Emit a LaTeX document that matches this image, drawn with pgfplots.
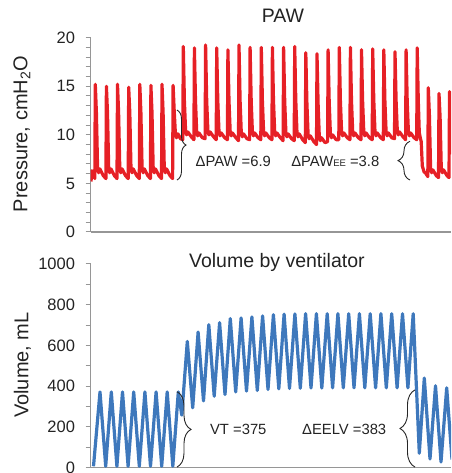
\documentclass[border=0pt]{standalone}
\usepackage{fontspec}
\setmainfont{Liberation Sans}
\usepackage{pgfplots}
\pgfplotsset{compat=1.18}
\usetikzlibrary{decorations.pathreplacing}

\definecolor{pawred}{RGB}{230,32,38}
\definecolor{volblue}{RGB}{62,120,188}
\definecolor{axisgray}{RGB}{150,150,150}
\definecolor{labelgray}{RGB}{35,35,35}
\newcommand{\ticksize}{\fontsize{16.5}{18}\selectfont}
\newcommand{\labsize}{\fontsize{20}{22}\selectfont}
\newcommand{\titsize}{\fontsize{19.5}{22}\selectfont}
\newcommand{\annsize}{\fontsize{14.8}{16}\selectfont}

\tikzset{mybrace/.style={decorate, draw=black!85, line width=0.9pt}}
\pgfplotsset{
  panel/.style={
    scale only axis, width=360.5pt, anchor=south west,
    xmin=90.5, xmax=451,
    axis x line=bottom, axis y line=left,
    axis line style={-, draw=axisgray, line width=1.2pt},
    xtick=\empty,
    tick align=outside, major tick length=5pt, minor tick length=5pt,
    every tick/.style={draw=axisgray, line width=1pt},
    yticklabel style={font=\ticksize, text=labelgray, xshift=-7pt},
    /pgf/number format/assume math mode=true,
    /pgf/number format/1000 sep={},
  },
}

\begin{document}
\begin{tikzpicture}
\useasboundingbox (0,0) rectangle (451pt,473pt);

% ---------- PAW ----------
\begin{axis}[panel, height=194.3pt, at={(90.5pt,241pt)},
  ymin=0, ymax=20, ytick={0,5,10,15,20}, minor y tick num=4,
  ylabel={Pressure, cmH\textsubscript{2}O},
  ylabel style={at={(axis description cs:-0.1753,0.504)}, rotate=0, anchor=base, font=\labsize, text=labelgray},
  title={PAW},
  title style={at={(axis description cs:0.534,1.048)}, anchor=base, font=\titsize, text=labelgray}]
\addplot[pawred, line width=3.2pt, line join=round] coordinates {
(91,5.2) (92,6.3) (94,6.0)
(94.8,5.5) (95.3,15.2) (96.4,12.3) (97.6,6.5) (98.6,6.1) (99.8,6.5) (103.3,5.8)
(105.9,5.5) (106.4,15.0) (107.5,12.3) (108.7,6.5) (109.7,6.1) (110.9,6.5) (114.4,5.8)
(117.0,5.5) (117.5,15.2) (118.6,12.3) (119.8,6.5) (120.8,6.1) (122.0,6.5) (125.5,5.8)
(128.2,5.5) (128.7,14.9) (129.8,12.3) (131.0,6.5) (132.0,6.1) (133.2,6.5) (136.7,5.8)
(139.3,5.5) (139.8,15.2) (140.9,12.3) (142.1,6.5) (143.1,6.1) (144.3,6.5) (147.8,5.8)
(150.4,5.5) (150.9,15.1) (152.0,12.3) (153.2,6.5) (154.2,6.1) (155.4,6.5) (158.9,5.8)
(161.5,5.5) (162.0,15.2) (163.1,12.3) (164.3,6.5) (165.3,6.1) (166.5,6.5) (170.0,5.8)
(172.6,5.5) (173.1,15.1) (174.2,12.5) (175.3,10.3) (176.5,9.7) (178,10.1) (180.5,9.6) (182.8,9.5)
(183.3,19.1) (184.4,13.5) (185.6,10.4) (186.6,10.0) (187.8,10.3) (191.3,9.8)
(193.9,9.5) (194.4,18.95) (195.5,13.5) (196.7,10.3) (197.7,9.9) (198.9,10.2) (202.4,9.7)
(205.1,9.6) (205.6,19.25) (206.7,13.5) (207.9,10.4) (208.9,10.0) (210.1,10.3) (213.6,9.8)
(216.2,9.5) (216.7,18.95) (217.8,13.5) (219.0,10.3) (220.0,9.9) (221.2,10.2) (224.7,9.7)
(227.4,9.5) (227.9,18.75) (229.0,13.5) (230.2,10.3) (231.2,9.9) (232.4,10.2) (235.9,9.7)
(238.5,9.4) (239.0,19.25) (240.1,13.5) (241.3,10.2) (242.3,9.8) (243.5,10.1) (247.0,9.6)
(249.6,9.5) (250.1,19.0) (251.2,13.5) (252.4,10.3) (253.4,9.9) (254.6,10.2) (258.1,9.7)
(260.8,9.5) (261.3,19.0) (262.4,13.5) (263.6,10.3) (264.6,9.9) (265.8,10.2) (269.3,9.7)
(271.9,9.5) (272.4,19.0) (273.5,13.5) (274.7,10.3) (275.7,9.9) (276.9,10.2) (280.4,9.7)
(283.1,9.4) (283.6,19.0) (284.7,13.5) (285.9,10.2) (286.9,9.8) (288.1,10.1) (291.6,9.6)
(294.2,9.4) (294.7,19.1) (295.8,13.5) (297.0,10.2) (298.0,9.8) (299.2,10.1) (302.7,9.5)
(305.3,9.2) (305.8,18.45) (306.9,13.3) (308.1,10.0) (309.1,9.6) (310.3,9.9) (313.8,9.3)
(316.5,9.0) (317.0,18.35) (318.1,13.2) (319.3,9.8) (320.3,9.4) (321.5,9.7) (325.0,9.2)
(327.6,9.3) (328.1,18.75) (329.2,13.4) (330.4,10.1) (331.4,9.7) (332.6,10.0) (336.1,9.5)
(338.8,9.5) (339.3,19.0) (340.4,13.5) (341.6,10.3) (342.6,9.9) (343.8,10.2) (347.3,9.7)
(349.9,9.5) (350.4,19.0) (351.5,13.5) (352.7,10.3) (353.7,9.9) (354.9,10.2) (358.4,9.7)
(361.0,9.5) (361.5,18.75) (362.6,13.5) (363.8,10.3) (364.8,9.9) (366.0,10.2) (369.5,9.7)
(372.2,9.5) (372.7,18.85) (373.8,13.5) (375.0,10.3) (376.0,9.9) (377.2,10.2) (380.7,9.7)
(383.3,9.5) (383.8,18.75) (384.9,13.5) (386.1,10.3) (387.1,9.9) (388.3,10.2) (391.8,9.7)
(394.5,9.6) (395.0,18.55) (396.1,13.5) (397.3,10.4) (398.3,10.0) (399.5,10.3) (403.0,9.8)
(405.6,9.5) (406.1,18.75) (407.2,13.5) (408.4,10.3) (409.4,9.9) (410.6,10.2) (414.1,9.7)
(416.7,9.5) (417.2,18.95) (418.3,13.5) (419.3,10.2) (420.3,9.7) (421.2,9.3) (422.3,6.8) (424,6.2) (426,6.0) (427.8,5.7)
(428.3,14.85) (429.4,12.0) (430.6,6.5) (431.6,6.1) (432.8,6.4) (436.3,5.8)
(438.5,5.6) (439.0,14.25) (440.1,11.8) (441.3,6.5) (442.3,6.1) (443.5,6.4) (447.0,5.8)
(449.0,5.6) (449.5,14.45) (450.6,12.0) (451.5,8.0)
};
\draw[mybrace, decoration={brace, amplitude=9pt}] (axis cs:177,12.55) -- (axis cs:177,5.35);
\draw[mybrace, decoration={brace, amplitude=12pt}] (axis cs:410,5.35) -- (axis cs:410,9.34);
\node[font=\annsize, text=labelgray, anchor=base] at (axis cs:233.3,6.79) {ΔPAW =6.9};
\node[font=\annsize, text=labelgray, anchor=base] at (axis cs:335.3,6.79) {ΔPAW{\fontsize{9.5}{10}\selectfont EE} =3.8};
\end{axis}

% ---------- Volume ----------
\begin{axis}[panel, height=203.7pt, at={(90.5pt,5.3pt)},
  ymin=0, ymax=1000, ytick={0,200,400,600,800,1000}, minor y tick num=1,
  ylabel={Volume, mL},
  ylabel style={at={(axis description cs:-0.1725,0.504)}, rotate=0, anchor=base, font=\labsize, text=labelgray},
  title={Volume by ventilator},
  title style={at={(axis description cs:0.517,0.951)}, anchor=base, font=\titsize, text=labelgray}]
\addplot[volblue, line width=3.2pt, line join=round] coordinates {
(93.5,7) (100,372) (105.7,7) (111.3,372) (116.9,7) (122.5,372) (128.1,7) (133.7,372)
(139.3,7) (144.9,372) (150.5,7) (156.1,372) (161.7,7) (167.2,372) (172.8,7) (178.3,372)
(181.8,258) (187.3,620) (192.7,294) (198.1,666) (203.5,328) (208.8,702) (214.2,351)
(219.6,712) (225,359) (230.3,732) (235.7,372) (241.1,735) (246.5,376) (251.9,740)
(257.3,379) (262.6,745) (268,384) (273.4,751) (278.8,387) (284.1,754) (289.5,389)
(294.9,755) (300.3,390) (305.6,756) (311,391) (316.4,756) (321.8,391) (327.2,756)
(332.6,392) (337.9,756) (343.3,392) (348.7,756) (354,392) (359.4,756) (364.8,392)
(370.2,756) (375.6,392) (380.9,756) (386.3,392) (391.7,756) (397.1,392) (402.5,756)
(407.9,392) (413.2,756) (419.3,71) (424.3,440) (430,43) (435.5,402) (441,28)
(446.7,392) (452,40)
};
\draw[mybrace, decoration={brace, amplitude=14pt}] (axis cs:177,373) -- (axis cs:177,3);
\draw[mybrace, decoration={brace, amplitude=15pt}] (axis cs:415,3) -- (axis cs:415,382);
\node[font=\annsize, text=labelgray, anchor=base] at (axis cs:238.3,164) {VT =375};
\node[font=\annsize, text=labelgray, anchor=base] at (axis cs:344.2,164) {ΔEELV =383};
\end{axis}
\end{tikzpicture}
\end{document}
